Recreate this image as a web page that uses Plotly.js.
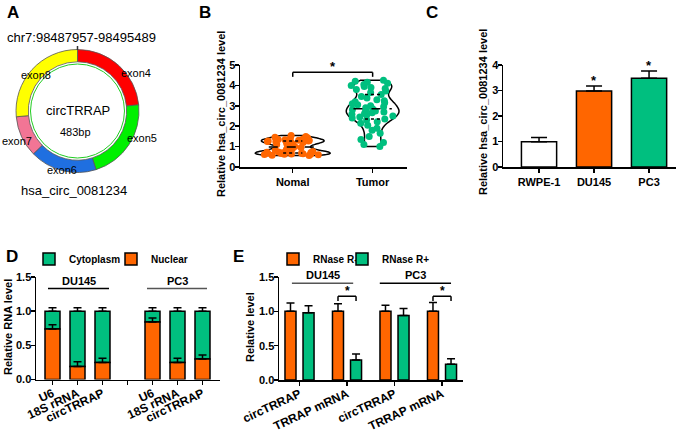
<!DOCTYPE html>
<html>
<head>
<meta charset="utf-8">
<script src="https://cdn.plot.ly/plotly-3.0.1.min.js"></script>
<style>
  body { margin: 0; background: #fff; }
  #chart { width: 685px; height: 432px; }
</style>
</head>
<body>
<div id="chart"></div>
<script>
// A: circTRRAP exons (arc lengths in bp, 483 total)
const exonNames = ["exon4", "exon5", "exon6", "exon7", "exon8"];
const exonLen = [113, 105, 85, 52, 128];
const exonColors = ["#FF0000", "#00F000", "#1F6FE0", "#F27595", "#FFFF00"];

// B: tissue levels
const groupsB = ["Nomal", "Tumor"];
const normalLevel = [0.56, 0.58, 0.60, 0.61, 0.62, 0.63, 0.64, 0.65, 0.66, 0.67, 0.68, 0.70,
  0.71, 0.72, 0.74, 0.76, 0.78, 0.82, 0.86, 0.90, 0.95, 1.00, 1.05, 1.10, 1.14, 1.17, 1.20,
  1.22, 1.24, 1.25, 1.27, 1.28, 1.30, 1.31, 1.33, 1.35, 1.37, 1.40, 1.43, 1.46, 1.50, 1.55];
const tumorLevel = [4.25, 4.20, 4.15, 4.10, 4.05, 4.00, 3.95, 3.90, 3.85, 3.80, 3.72, 3.65,
  3.55, 3.45, 3.38, 3.30, 3.25, 3.20, 3.15, 3.10, 3.05, 3.00, 2.95, 2.90, 2.85, 2.82, 2.78,
  2.75, 2.70, 2.66, 2.62, 2.58, 2.55, 2.50, 2.45, 2.40, 2.35, 2.30, 2.22, 2.15, 2.05, 1.90,
  1.80, 1.65, 1.50, 1.35, 1.20, 1.10, 1.00];

// C: cell lines
const cellLines = ["RWPE-1", "DU145", "PC3"];
const cellMean = [0.99, 2.98, 3.48];
const cellErr = [0.17, 0.20, 0.28];
const cellSig = ["", "*", "*"];

// D: nuclear / cytoplasm fractions
const fracLabels = ["U6", "18S rRNA", "circTRRAP", "U6", "18S rRNA", "circTRRAP"];
const nuclear = [0.74, 0.19, 0.25, 0.84, 0.25, 0.30];
const nuclearErr = [0.06, 0.07, 0.06, 0.06, 0.06, 0.06];
const cytoErr = [0.05, 0.05, 0.05, 0.05, 0.05, 0.05];
const groupNames = ["DU145", "PC3"];

// E: RNase R
const rnaseLabels = ["circTRRAP", "TRRAP mRNA", "circTRRAP", "TRRAP mRNA"];
const rnaseMinus = [1.0, 1.0, 1.0, 1.0];
const rnaseMinusErr = [0.12, 0.11, 0.09, 0.13];
const rnasePlus = [0.98, 0.29, 0.94, 0.23];
const rnasePlusErr = [0.10, 0.09, 0.10, 0.08];

const ORANGE = "#FF6600";
const GREEN = "#00BF7F";
const FONT = "Liberation Sans, Arial, sans-serif";
const W = 685, H = 432;
const px = (x) => x / W;
const py = (y) => 1 - y / H;

const bold = (size) => ({ family: FONT, size: size, color: "black", weight: "bold" });
const axis = {
  showline: true, linecolor: "black", linewidth: 1.5,
  ticks: "outside", ticklen: 4, tickwidth: 1.5, tickcolor: "black",
  showgrid: false, zeroline: false, tickfont: bold(11), fixedrange: true,
};
const yaxis = Object.assign({}, axis, { ticklabelstandoff: -3 });
const errUp = (arr, w) => ({
  type: "data", array: arr, arrayminus: arr.map(() => 0), symmetric: false,
  color: "black", thickness: 1.5, width: w,
});
const barLine = { color: "black", width: 1.5 };

const posD = fracLabels.map((_, i) => (i < 3 ? i : i + 1));
const posE = rnaseLabels.map((_, i) => i);

const traces = [
  {
    type: "pie", labels: exonNames, values: exonLen, sort: false,
    direction: "clockwise", rotation: 0, hole: 0.8,
    marker: { colors: exonColors, line: { color: "#555", width: 0.8 } },
    textinfo: "none", hoverinfo: "label+value", showlegend: false,
    domain: { x: [px(16), px(139)], y: [py(172.5), py(49.5)] },
  },
  {
    type: "violin", x: normalLevel.map(() => groupsB[0]), y: normalLevel,
    xaxis: "x", yaxis: "y", points: "all", pointpos: 0, jitter: 0.95,
    spanmode: "hard", width: 0.94, bandwidth: 0.12,
    fillcolor: "rgba(0,0,0,0)", line: { color: "black", width: 1.5 },
    marker: { color: ORANGE, size: 7 }, showlegend: false,
  },
  {
    type: "violin", x: tumorLevel.map(() => groupsB[1]), y: tumorLevel,
    xaxis: "x", yaxis: "y", points: "all", pointpos: 0, jitter: 0.95,
    spanmode: "hard", width: 0.66, bandwidth: 0.22,
    fillcolor: "rgba(0,0,0,0)", line: { color: "black", width: 1.5 },
    marker: { color: GREEN, size: 7 }, showlegend: false,
  },
  {
    type: "bar", x: cellLines, y: cellMean, xaxis: "x2", yaxis: "y2", width: 0.64,
    marker: { color: ["#FFFFFF", ORANGE, GREEN], line: barLine },
    error_y: errUp(cellErr, 8), showlegend: false,
  },
  {
    type: "bar", name: "Cytoplasm", x: posD, y: nuclear.map((v) => 1 - v), base: nuclear,
    xaxis: "x3", yaxis: "y3", width: 0.6, legend: "legend",
    marker: { color: GREEN, line: barLine }, error_y: errUp(cytoErr, 4),
  },
  {
    type: "bar", name: "Nuclear", x: posD, y: nuclear,
    xaxis: "x3", yaxis: "y3", width: 0.6, legend: "legend2",
    marker: { color: ORANGE, line: barLine }, error_y: errUp(nuclearErr, 4),
  },
  {
    type: "bar", name: "RNase R-", x: posE, y: rnaseMinus,
    xaxis: "x4", yaxis: "y4", width: 0.232, offset: -0.306, legend: "legend3",
    marker: { color: ORANGE, line: barLine }, error_y: errUp(rnaseMinusErr, 4),
  },
  {
    type: "bar", name: "RNase R+", x: posE, y: rnasePlus,
    xaxis: "x4", yaxis: "y4", width: 0.232, offset: 0.074, legend: "legend4",
    marker: { color: GREEN, line: barLine }, error_y: errUp(rnasePlusErr, 4),
  },
];

const shapes = [];
const annotations = [];
const txt = (text, x, y, font, extra) =>
  annotations.push(Object.assign({ text: text, x: x, y: y, xref: "paper", yref: "paper",
    xanchor: "center", yanchor: "middle", showarrow: false, font: font }, extra || {}));
const line = (xref, yref, x0, y0, x1, y1, color, dash) =>
  shapes.push({ type: "line", xref: xref, yref: yref, x0: x0, y0: y0, x1: x1, y1: y1,
    line: { color: color || "black", width: 1.5, dash: dash || "solid" } });
const star = (x, y, xref, yref, size) =>
  annotations.push({ text: "*", x: x, y: y, xref: xref, yref: yref, yanchor: "bottom",
    yshift: -4, showarrow: false, font: bold(size) });

// panel letters
[["A", 13, 12], ["B", 205, 12], ["C", 432, 12], ["D", 12, 256], ["E", 239, 256]].forEach(
  (p) => txt(p[0], px(p[1]), py(p[2]), bold(17)));

// y axis titles
txt("Relative hsa_circ_0081234 level", px(221), py(114), bold(11), { textangle: -90 });
txt("Relative hsa_circ_0081234 level", px(483), py(112), bold(11), { textangle: -90 });
txt("Relative RNA level", px(8), py(327), bold(11), { textangle: -90 });
txt("Relative level", px(250), py(327), bold(11), { textangle: -90 });

// A texts and ring details
const plain = (s) => ({ family: FONT, size: s, color: "black" });
txt("chr7:98487957-98495489", px(81), py(37), plain(13));
txt("hsa_circ_0081234", px(74), py(190), plain(13));
txt("circTRRAP", px(78), py(110), plain(13));
txt("483bp", px(75), py(132), plain(11));
const exonLabelPos = [[136, 73], [142, 138], [62, 170], [17, 141], [36, 75]];
exonNames.forEach((n, i) => txt(n, px(exonLabelPos[i][0]), py(exonLabelPos[i][1]), plain(11)));
shapes.push({ type: "circle", xref: "paper", yref: "paper",
  x0: px(77.5 - 47), x1: px(77.5 + 47), y0: py(111 + 47), y1: py(111 - 47),
  line: { color: "#22CC22", width: 1 } });
line("paper", "paper", px(77.5), py(46), px(77.5), py(50), "#333");

// B medians (dashed) and quartiles (dotted) of each group
const quant = (arr, q) => {
  const s = arr.slice().sort((a, b) => a - b);
  const p = (s.length - 1) * q, lo = Math.floor(p);
  return s[lo] + (s[Math.min(lo + 1, s.length - 1)] - s[lo]) * (p - lo);
};
[[normalLevel, 0, 0.3], [tumorLevel, 1, 0.24]].forEach((g) => {
  const m = quant(g[0], 0.5);
  line("x", "y", g[1] - g[2], m, g[1] + g[2], m, "black", "dash");
  line("x", "y", g[1] - g[2] * 0.4, quant(g[0], 0.25), g[1] + g[2] * 0.4, quant(g[0], 0.25),
    "black", "dot");
  line("x", "y", g[1] - g[2] * 0.4, quant(g[0], 0.75), g[1] + g[2] * 0.4, quant(g[0], 0.75),
    "black", "dot");
});

// B significance bracket
line("x", "y", 0, 4.64, 1, 4.64);
line("x", "y", 0, 4.64, 0, 4.42);
line("x", "y", 1, 4.64, 1, 4.42);
star(0.5, 4.64, "x", "y", 13);

// C stars
cellLines.forEach((c, i) => {
  if (cellSig[i]) star(c, cellMean[i] + cellErr[i], "x2", "y2", 13);
});

// D group labels
[[-0.18, 2.26], [3.78, 6.18]].forEach((g, i) => {
  line("x3", "y3", g[0], 1.33, g[1], 1.33, i ? "#555" : "black");
  annotations.push({ text: groupNames[i], x: (g[0] + g[1]) / 2, y: 1.33, xref: "x3", yref: "y3",
    yanchor: "bottom", showarrow: false, font: bold(11) });
});

// E group labels and brackets
[[-0.16, 1.13], [1.69, 3.19]].forEach((g, i) => {
  line("x4", "y4", g[0], 1.41, g[1], 1.41, i ? "black" : "#555");
  annotations.push({ text: groupNames[i], x: (g[0] + g[1]) / 2, y: 1.41, xref: "x4", yref: "y4",
    yanchor: "bottom", showarrow: false, font: bold(11) });
});
[1, 3].forEach((k) => {
  const a = k - 0.19, b = k + 0.19, yb = 1.22;
  line("x4", "y4", a, yb, b, yb);
  line("x4", "y4", a, yb, a, yb - 0.07);
  line("x4", "y4", b, yb, b, yb - 0.07);
  star(k, yb, "x4", "y4", 12);
});

const leg = (x) => ({ x: px(x), y: py(259), xanchor: "left", yanchor: "middle",
  orientation: "h", font: bold(10), bgcolor: "rgba(0,0,0,0)", itemwidth: 30 });

const layout = {
  width: W, height: H,
  margin: { l: 0, r: 0, t: 0, b: 0 },
  paper_bgcolor: "white", plot_bgcolor: "rgba(0,0,0,0)",
  font: { family: FONT, color: "black" },
  violinmode: "overlay", barmode: "overlay",
  xaxis: Object.assign({}, axis, { domain: [px(240), px(407)], anchor: "y",
    type: "category", range: [-0.66, 1.43] }),
  yaxis: Object.assign({}, yaxis, { domain: [py(167), py(65)], anchor: "x",
    range: [0, 5], dtick: 1 }),
  xaxis2: Object.assign({}, axis, { domain: [px(503), px(676)], anchor: "y2",
    type: "category", range: [-0.655, 2.49] }),
  yaxis2: Object.assign({}, yaxis, { domain: [py(167), py(65)], anchor: "x2",
    range: [0, 4], dtick: 1 }),
  xaxis3: Object.assign({}, axis, { domain: [px(36), px(220)], anchor: "y3",
    range: [-0.66, 6.7], tickvals: [0, 1, 2, 3, 4, 5, 6],
    ticktext: ["U6", "18S rRNA", "circTRRAP", "", "U6", "18S rRNA", "circTRRAP"],
    tickangle: -25, tickfont: bold(12), ticklabelstandoff: -3 }),
  yaxis3: Object.assign({}, yaxis, { domain: [py(379.5), py(277)], anchor: "x3",
    range: [0, 1.5], dtick: 0.5, tickformat: ".1f" }),
  xaxis4: Object.assign({}, axis, { domain: [px(279), px(463)], anchor: "y4",
    range: [-0.432, 3.442], tickvals: posE, ticktext: rnaseLabels,
    tickangle: -25, tickfont: bold(12), ticklabelstandoff: -3 }),
  yaxis4: Object.assign({}, yaxis, { domain: [py(380), py(277)], anchor: "x4",
    range: [0, 1.5], dtick: 0.5, tickformat: ".1f" }),
  legend: leg(29),
  legend2: leg(111),
  legend3: leg(273),
  legend4: leg(342),
  shapes: shapes,
  annotations: annotations,
};

Plotly.newPlot("chart", traces, layout, { displayModeBar: false, staticPlot: true });
</script>
</body>
</html>
